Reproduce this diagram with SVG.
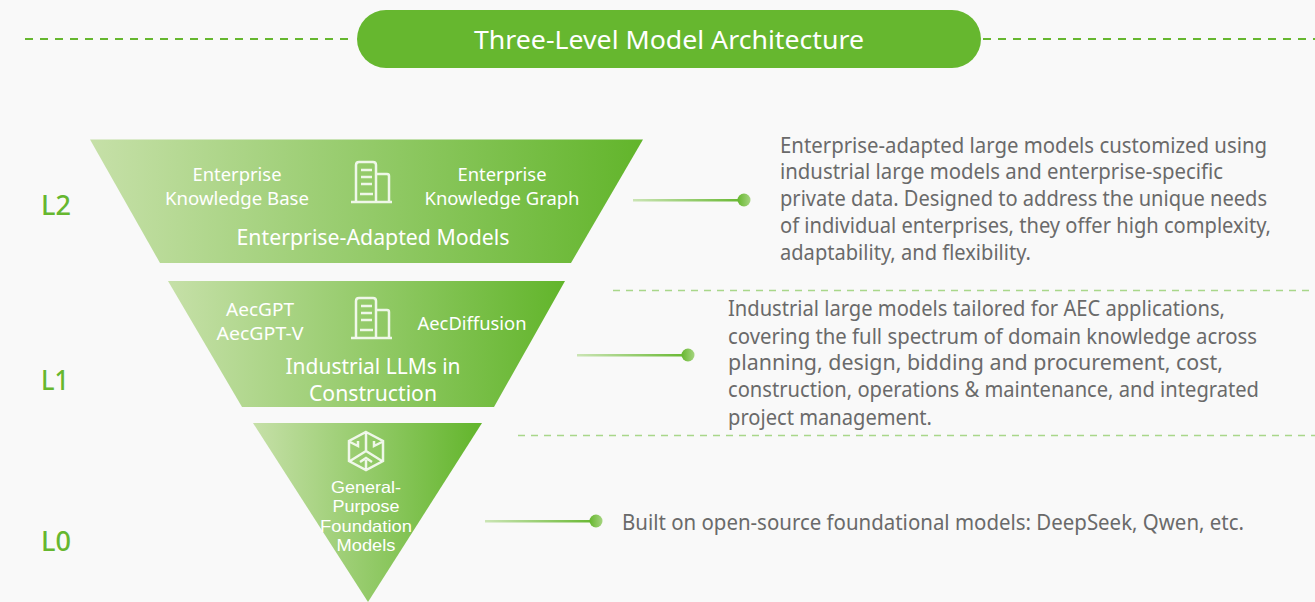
<svg xmlns="http://www.w3.org/2000/svg" width="1315" height="602" viewBox="0 0 1315 602">
<style>
text{font-family:"Noto Sans","Open Sans","Liberation Sans",sans-serif}
.w{fill:#fff;text-anchor:middle}
.s{font-size:18px}
.m{font-size:21px}
.t{font-family:"Liberation Sans",Arial,sans-serif;font-size:16.500px}
.d{fill:#6a6a6a;font-size:21px}
.l{fill:#66b72f;font-size:27px;font-weight:500}
.i{fill:none;stroke:#fff;stroke-opacity:.85;stroke-width:2.500}
.dash{stroke:#66b72f;stroke-width:2;stroke-dasharray:8 7}
.dl{stroke:#a9d78a;stroke-width:1.500;stroke-dasharray:7 6}
</style>
<defs>
<linearGradient id="g"><stop offset="0" stop-color="#c6e0a8"/><stop offset="1" stop-color="#62b52b"/></linearGradient>
<linearGradient id="gl"><stop offset="0" stop-color="#cbe5b5"/><stop offset="1" stop-color="#66b72f"/></linearGradient>
<linearGradient id="gd"><stop offset="0" stop-color="#66b72f"/><stop offset="1" stop-color="#a5d47f"/></linearGradient>
<g id="b"><path class="i" d="M-13,19V-17Q-13,-20 -10,-20H4Q7,-20 7,-17V19M7,-8H18Q20,-8 20,-6V19"/><path class="i" d="M-8,-12H3M-8,-5H3M-8,2H3" stroke-width="2.200"/><path class="i" d="M-9,12H4" stroke-opacity=".3"/><path class="i" d="M-18,20H23" stroke-width="3"/></g>
</defs>
<rect width="1315" height="602" fill="#f9f9f9"/>
<g id="connectors">
<path class="dash" d="M25,39H355M983,39H1315"/>
<path class="dl" d="M613,290.500H1315M518,435.500H1315"/>
<rect x="633" y="199" width="111" height="2.500" fill="url(#gl)"/><circle cx="744" cy="200" r="6.500" fill="url(#gd)"/>
<rect x="577" y="354" width="111" height="2.500" fill="url(#gl)"/><circle cx="688" cy="355" r="6.500" fill="url(#gd)"/>
<rect x="485" y="520" width="111" height="2.500" fill="url(#gl)"/><circle cx="596" cy="521" r="6.500" fill="url(#gd)"/>
</g>
<g id="title"><rect x="357" y="10" width="624" height="58" rx="29" fill="#66b72f"/><text class="w" x="669" y="49" font-size="26" textLength="390" lengthAdjust="spacingAndGlyphs">Three-Level Model Architecture</text></g>
<g id="l2">
<path d="M90,139.500H643L571,263H160Z" fill="url(#g)"/>
<text class="l" x="41" y="215" textLength="30" lengthAdjust="spacingAndGlyphs">L2</text>
<use href="#b" x="369" y="182"/>
<text class="w s" x="237" y="181" textLength="89" lengthAdjust="spacingAndGlyphs">Enterprise</text>
<text class="w s" x="237" y="205" textLength="144" lengthAdjust="spacingAndGlyphs">Knowledge Base</text>
<text class="w s" x="502" y="181" textLength="89" lengthAdjust="spacingAndGlyphs">Enterprise</text>
<text class="w s" x="502" y="205" textLength="155" lengthAdjust="spacingAndGlyphs">Knowledge Graph</text>
<text class="w m" x="373" y="245" textLength="273" lengthAdjust="spacingAndGlyphs">Enterprise-Adapted Models</text>
<text class="d" x="780" y="153" textLength="487" lengthAdjust="spacingAndGlyphs">Enterprise-adapted large models customized using</text>
<text class="d" x="780" y="179" textLength="443" lengthAdjust="spacingAndGlyphs">industrial large models and enterprise-specific</text>
<text class="d" x="780" y="206" textLength="487" lengthAdjust="spacingAndGlyphs">private data. Designed to address the unique needs</text>
<text class="d" x="780" y="233" textLength="491" lengthAdjust="spacingAndGlyphs">of individual enterprises, they offer high complexity,</text>
<text class="d" x="780" y="260" textLength="251" lengthAdjust="spacingAndGlyphs">adaptability, and flexibility.</text>
</g>
<g id="l1">
<path d="M168,281H565L494,407H242Z" fill="url(#g)"/>
<text class="l" x="41" y="390" textLength="28" lengthAdjust="spacingAndGlyphs">L1</text>
<use href="#b" x="369" y="318"/>
<text class="w s" x="260" y="316" textLength="68" lengthAdjust="spacingAndGlyphs">AecGPT</text>
<text class="w s" x="260" y="340" textLength="87" lengthAdjust="spacingAndGlyphs">AecGPT-V</text>
<text class="w s" x="472" y="330" textLength="109" lengthAdjust="spacingAndGlyphs">AecDiffusion</text>
<text class="w m" x="373" y="374" textLength="175" lengthAdjust="spacingAndGlyphs">Industrial LLMs in</text>
<text class="w m" x="373" y="401" textLength="128" lengthAdjust="spacingAndGlyphs">Construction</text>
<text class="d" x="728" y="316" textLength="497" lengthAdjust="spacingAndGlyphs">Industrial large models tailored for AEC applications,</text>
<text class="d" x="728" y="344" textLength="529" lengthAdjust="spacingAndGlyphs">covering the full spectrum of domain knowledge across</text>
<text class="d" x="728" y="370" textLength="495" lengthAdjust="spacingAndGlyphs">planning, design, bidding and procurement, cost,</text>
<text class="d" x="728" y="397" textLength="531" lengthAdjust="spacingAndGlyphs">construction, operations &amp; maintenance, and integrated</text>
<text class="d" x="728" y="425" textLength="204" lengthAdjust="spacingAndGlyphs">project management.</text>
</g>
<g id="l0">
<path d="M253,423H482L368,602Z" fill="url(#g)"/>
<text class="l" x="41" y="551" textLength="30" lengthAdjust="spacingAndGlyphs">L0</text>
<g transform="translate(366,451)"><path class="i" d="M0,-19L17,-10V10L0,19L-17,10V-10Z" stroke-width="2.800"/><path class="i" d="M0,-18V0M0,0L16,10M0,0L-16,10M-16,-9L-8,-5V-10M16,-9L8,-5V-10M0,18V9M-6,11L0,7L6,11"/></g>
<text class="w t" x="366" y="493" textLength="70" lengthAdjust="spacingAndGlyphs">General-</text>
<text class="w t" x="366" y="512" textLength="67" lengthAdjust="spacingAndGlyphs">Purpose</text>
<text class="w t" x="366" y="532" textLength="92" lengthAdjust="spacingAndGlyphs">Foundation</text>
<text class="w t" x="366" y="551" textLength="59" lengthAdjust="spacingAndGlyphs">Models</text>
<text class="d" x="622" y="530" textLength="622" lengthAdjust="spacingAndGlyphs">Built on open-source foundational models: DeepSeek, Qwen, etc.</text>
</g>
</svg>
